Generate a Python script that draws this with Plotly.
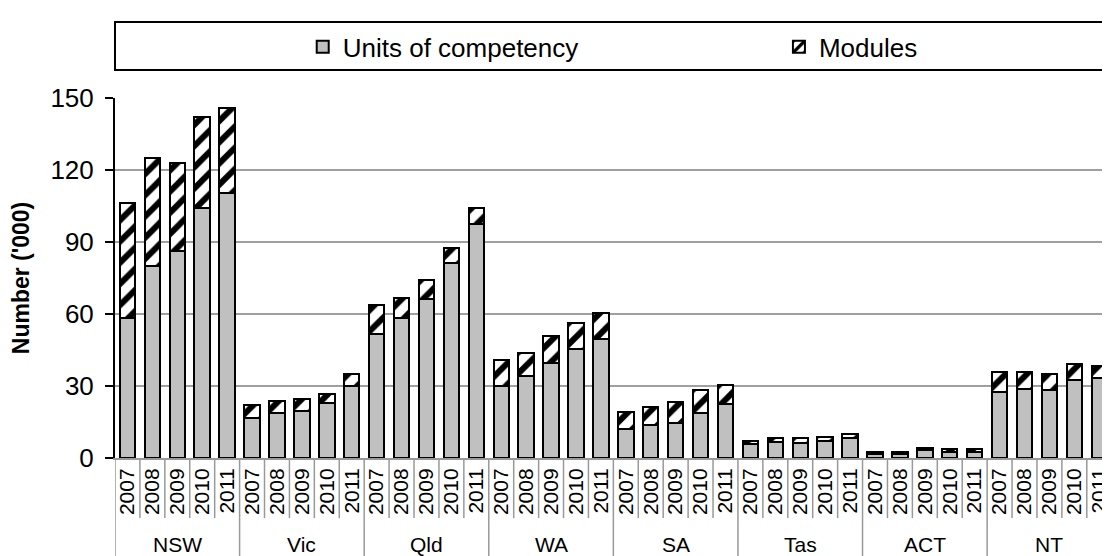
import plotly.graph_objects as go

# ── Data ('000) ─────────────────────────────────────────────────────────────
states = ["NSW", "Vic", "Qld", "WA", "SA", "Tas", "ACT", "NT"]
years = ["2007", "2008", "2009", "2010", "2011"]

units = [
    58.2, 80.1, 86.2, 104.2, 110.3,   # NSW
    16.8, 18.6, 19.7, 23.1, 30.1,     # Vic
    51.8, 58.2, 66.1, 81.1, 97.4,     # Qld
    30.1, 34.2, 39.4, 45.4, 49.7,     # WA
    11.9, 13.6, 14.4, 18.7, 22.5,     # SA
    5.8, 6.5, 6.4, 7.2, 8.5,          # Tas
    1.5, 1.7, 3.3, 2.6, 2.5,          # ACT
    27.6, 28.6, 28.3, 32.5, 33.2,     # NT
]
modules = [
    47.9, 44.8, 36.6, 37.7, 35.7,
    5.1, 5.3, 4.9, 3.7, 4.9,
    11.8, 8.3, 8.2, 6.5, 6.9,
    10.6, 9.7, 11.4, 10.7, 10.6,
    7.3, 7.8, 8.9, 9.5, 8.1,
    1.3, 1.7, 1.8, 1.7, 1.6,
    0.9, 0.9, 1.0, 1.1, 1.4,
    8.4, 7.4, 6.7, 6.5, 5.1,
]

cats = [f"{s} {y}" for s in states for y in years]
tick_years = [y for s in states for y in years]
n_years = len(years)

FONT = "Liberation Sans, Arial, sans-serif"

fig = go.Figure()
fig.add_trace(go.Bar(
    x=cats, y=units, name="Units of competency", legend="legend",
    marker=dict(color="#c0c0c0", line=dict(color="black", width=2)),
))
fig.add_trace(go.Bar(
    x=cats, y=modules, name="Modules", legend="legend2",
    marker=dict(
        color="white",
        line=dict(color="black", width=2),
        pattern=dict(shape="/", fgcolor="black", bgcolor="white",
                     size=15, solidity=0.4, fillmode="replace"),
    ),
))

# ── Divider lines under the axis (between years / between states) ─────────
shapes = []
for i in range(len(cats) + 1):
    group_edge = i % n_years == 0
    shapes.append(dict(
        type="line", xref="x", yref="paper",
        x0=i - 0.5, x1=i - 0.5,
        y0=0, y1=-0.3 if group_edge else -0.167,
        line=dict(color="#999999", width=1.5),
    ))
# legend box
shapes.append(dict(
    type="rect", xref="paper", yref="paper",
    x0=0, x1=1.05, y0=1.078, y1=1.211,
    line=dict(color="black", width=2), fillcolor="rgba(0,0,0,0)",
))

annotations = []
for k, s in enumerate(states):
    annotations.append(dict(
        x=k * n_years + (n_years - 1) / 2, y=-0.239,
        xref="x", yref="paper", text=s, showarrow=False,
        font=dict(family=FONT, size=21, color="black"),
        yanchor="middle",
    ))

legend_common = dict(
    orientation="h", y=1.142, xanchor="left", yanchor="middle",
    font=dict(family=FONT, size=26, color="black"),
    bgcolor="rgba(0,0,0,0)", itemwidth=30,
)

fig.update_layout(
    barmode="stack",
    bargap=0.38,
    width=1102, height=548,
    margin=dict(l=107, r=0, t=90, b=98),
    plot_bgcolor="white", paper_bgcolor="white",
    font=dict(family=FONT, size=18, color="black"),
    showlegend=True,
    legend=dict(x=0.19, **legend_common),
    legend2=dict(x=0.672, **legend_common),
    shapes=shapes,
    annotations=annotations,
    xaxis=dict(
        type="category", range=[-0.5, len(cats) - 0.85],
        tickmode="array", tickvals=cats, ticktext=tick_years,
        tickangle=-90, tickfont=dict(family=FONT, size=21),
        ticks="", showgrid=False,
        showline=True, linecolor="#999999", linewidth=2,
    ),
    yaxis=dict(
        range=[0, 150], tickvals=[0, 30, 60, 90, 120, 150],
        showgrid=True, gridcolor="#a0a0a0", gridwidth=1.5,
        showline=True, linecolor="black", linewidth=2,
        ticks="outside", ticklen=8, tickcolor="black", tickwidth=1.5,
        tickfont=dict(family=FONT, size=26),
        ticklabelstandoff=6,
        zeroline=False,
        title=dict(text="<b>Number ('000)</b>", font=dict(family=FONT, size=23),
                   standoff=14),
    ),
)

fig.write_html("out.html")
